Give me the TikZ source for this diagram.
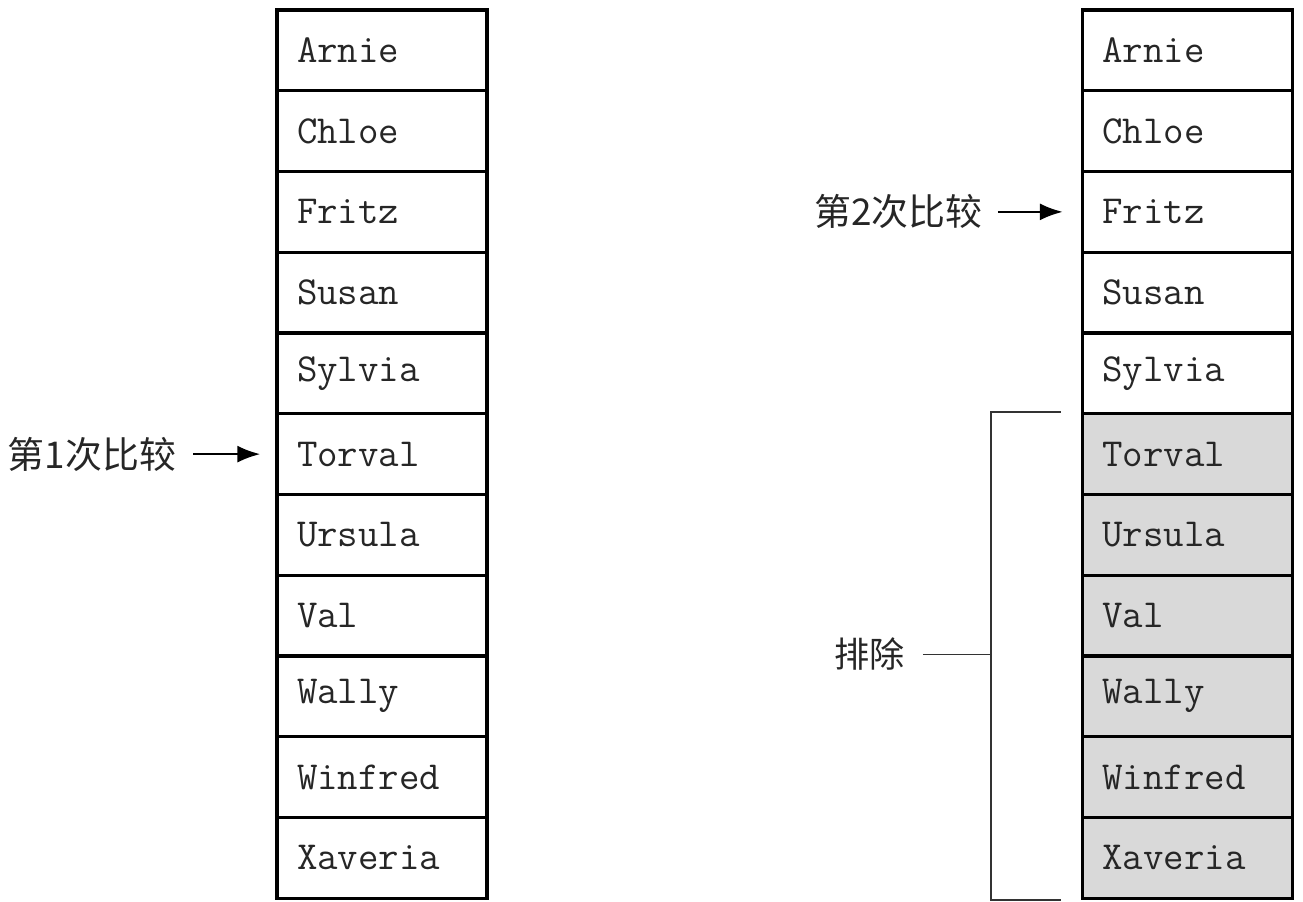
\documentclass[tikz,border=0pt]{standalone}
\usepackage{fontspec}
\newfontfamily\cjk{Noto Sans CJK SC}
\usetikzlibrary{arrows.meta, positioning}
\definecolor{cutgray}{RGB}{217,217,217}

\begin{document}
\begin{tikzpicture}[
  cell/.style={
    rectangle, draw, line width=1.8pt,
    minimum width=4.2cm, minimum height=1.615cm,
    text width=3.4cm, inner xsep=0.4cm, align=left,
    font=\fontsize{22.6}{26}\selectfont\ttfamily, text=black!85
  },
  lbl/.style={inner sep=0pt, font=\fontsize{21}{25}\selectfont\cjk, text=black!85},
  bracket/.style={line width=0.9pt, black!80},
  pointer/.style={line width=1.5pt, -{Latex[length=0.46cm, width=0.34cm]}}
]
  \useasboundingbox (0,0) rectangle (26.06,-18.04);

  % Two columns of names
  \foreach \name [count=\i] in {Arnie,Chloe,Fritz,Susan,Sylvia,Torval,Ursula,Val,Wally,Winfred,Xaveria} {
    \node[cell] (l\i) at (7.64,{-0.2-1.615*(\i-0.5)}) {\name};
    \ifnum\i>5
      \node[cell, fill=cutgray] (r\i) at (23.75,{-0.2-1.615*(\i-0.5)}) {\name};
    \else
      \node[cell] (r\i) at (23.75,{-0.2-1.615*(\i-0.5)}) {\name};
    \fi
  }

  % First comparison
  \node[lbl, left=1.98cm of l6] (cmp1) {第1次比较};
  \draw[pointer] ([xshift=0.34cm]cmp1.east) -- ([xshift=-0.3cm]l6.west);

  % Second comparison
  \node[lbl, left=1.96cm of r3] (cmp2) {第2次比较};
  \draw[pointer] ([xshift=0.3cm]cmp2.east) -- ([xshift=-0.36cm]r3.west);

  % Excluded half
  \draw[bracket] ([xshift=-0.4cm]r6.north west) -- ([xshift=-1.8cm]r6.north west)
    -- ([xshift=-1.8cm]r11.south west) -- ([xshift=-0.4cm]r11.south west);
  \coordinate (brk) at ([xshift=-1.8cm]r9.north west);
  \node[lbl, font=\fontsize{20}{24}\selectfont\cjk, left=1.72cm of brk] (excl) {排除};
  \draw[bracket] ([xshift=0.36cm]excl.east) -- (brk);
\end{tikzpicture}
\end{document}
